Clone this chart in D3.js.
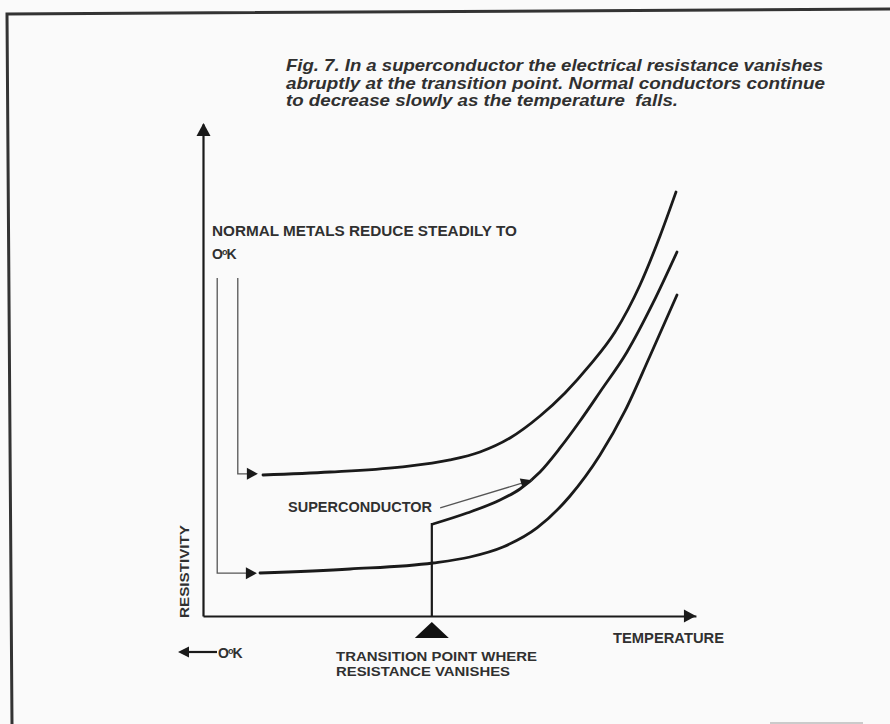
<!DOCTYPE html>
<html>
<head>
<meta charset="utf-8">
<script src="https://cdn.jsdelivr.net/npm/d3@7"></script>
<style>
  html, body { margin: 0; padding: 0; background: #fafafa; }
  svg { display: block; }
</style>
</head>
<body>
<script>
// ---------- data (temperature, resistivity in arbitrary units) ----------
const normalMetalA = [   // upper normal metal
  [12.24, 28.66], [25.92, 29.27], [40.20, 30.28], [50.41, 31.71], [56.53, 33.33],
  [62.65, 36.18], [68.78, 40.65], [73.88, 45.33], [78.98, 51.02], [84.08, 57.72],
  [89.18, 67.28], [93.27, 77.24], [96.53, 86.18]
];
const superconductor = [ // curve above the transition
  [46.94, 18.70], [53.88, 20.93], [60.61, 23.58], [64.69, 25.81], [68.78, 29.27],
  [72.86, 34.15], [76.94, 39.63], [81.02, 45.53], [86.53, 53.66], [91.84, 63.62],
  [96.73, 73.98]
];
const normalMetalB = [   // lower normal metal
  [11.63, 8.74], [30.00, 9.55], [46.94, 10.77], [54.49, 11.99], [61.22, 14.02],
  [68.16, 17.89], [74.90, 24.39], [81.02, 32.72], [86.12, 41.67], [91.22, 52.85],
  [96.73, 65.24]
];
const transitionT = 46.7;          // transition temperature
const transitionDrop = [[46.7, 0], [46.7, 18.7]];

// pointer from "normal metals" label to each curve
const pointerA = [[7.1, 68.7], [7.1, 28.9], [11.2, 28.9]];
const pointerB = [[2.9, 68.7], [2.9, 8.7], [11.0, 8.7]];
const pointerSC = [[48.4, 22.0], [67.1, 27.6]];

const captionLines = [
  "Fig. 7. In a superconductor the electrical resistance vanishes",
  "abruptly at the transition point. Normal conductors continue",
  "to decrease slowly as the temperature  falls."
];
const labelNormal = "NORMAL METALS REDUCE STEADILY TO";
const labelSC = "SUPERCONDUCTOR";
const labelY = "RESISTIVITY";
const labelX = "TEMPERATURE";
const labelTransition = ["TRANSITION POINT WHERE", "RESISTANCE VANISHES"];

// ---------- layout ----------
const W = 890, H = 724;
const svg = d3.select("body").append("svg").attr("width", W).attr("height", H)
  .attr("font-family", "'Liberation Sans', Arial, sans-serif");
svg.append("rect").attr("width", W).attr("height", H).attr("fill", "#fafafa");

const x = d3.scaleLinear().domain([0, 100]).range([203, 693]);
const y = d3.scaleLinear().domain([0, 100]).range([616, 124]);
const xMax = 100.6;

const ink = "#1a1a1a";
const txt = "#303030";

// frame
svg.append("path").attr("d", "M12,724 L7,14 L890,9")
  .attr("fill", "none").attr("stroke", "#333").attr("stroke-width", 3);
svg.append("line").attr("x1", 770).attr("x2", 863).attr("y1", 723).attr("y2", 723)
  .attr("stroke", "#bbb").attr("stroke-width", 1.5);

// caption
const cap = svg.append("text").attr("font-style", "italic").attr("font-weight", 700)
  .attr("font-size", 16.5).attr("fill", txt).attr("xml:space", "preserve");
const capW = [537, 539, 392];
captionLines.forEach((l, i) => {
  cap.append("tspan").attr("x", 286).attr("y", 71 + i * 17.5).text(l)
    .attr("textLength", capW[i]).attr("lengthAdjust", "spacingAndGlyphs");
});

// axes (domain lines only, drawn through d3 axes)
const xAxisScale = d3.scaleLinear().domain([0, xMax]).range([x(0), x(xMax)]);
svg.append("g").attr("transform", `translate(0,${y(0)})`)
  .call(d3.axisBottom(xAxisScale).tickValues([]).tickSizeOuter(0))
  .select(".domain").attr("stroke", ink).attr("stroke-width", 2.2);
svg.append("g").attr("transform", `translate(${x(0)},0)`)
  .call(d3.axisLeft(y).tickValues([]).tickSizeOuter(0))
  .select(".domain").attr("stroke", ink).attr("stroke-width", 2.2);

function arrowHead(tx, ty, ang, len, half, color) {
  const c = Math.cos(ang), s = Math.sin(ang);
  const bx = tx - c * len, by = ty - s * len;
  const p = d3.path();
  p.moveTo(tx, ty);
  p.lineTo(bx - s * half, by + c * half);
  p.lineTo(bx + s * half, by - c * half);
  p.closePath();
  svg.append("path").attr("d", p.toString()).attr("fill", color || ink);
}
arrowHead(x(0) + 0.5, 123, -Math.PI / 2, 13, 7);
arrowHead(x(xMax), y(0), 0, 12, 6.5);

// curves
const smooth = d3.line().x(d => x(d[0])).y(d => y(d[1])).curve(d3.curveMonotoneX);
const straight = d3.line().x(d => x(d[0])).y(d => y(d[1]));

[normalMetalA, superconductor, normalMetalB].forEach(s => {
  svg.append("path").attr("d", smooth(s)).attr("fill", "none")
    .attr("stroke", ink).attr("stroke-width", 2.8).attr("stroke-linecap", "round");
});
svg.append("path").attr("d", straight([transitionDrop[0], transitionDrop[1], superconductor[0]]))
  .attr("fill", "none").attr("stroke", ink).attr("stroke-width", 2.2);

// pointers
[pointerA, pointerB].forEach(p => {
  const last = p[p.length - 1];
  svg.append("path").attr("d", straight(p.slice(0, -1).concat([[last[0] - 1.6, last[1]]])))
    .attr("fill", "none").attr("stroke", "#555").attr("stroke-width", 1.3);
  arrowHead(x(last[0]), y(last[1]), 0, 11, 6);
});
{
  const a = pointerSC[0], b = pointerSC[1];
  const ang = Math.atan2(y(b[1]) - y(a[1]), x(b[0]) - x(a[0]));
  svg.append("path").attr("d", straight(pointerSC)).attr("fill", "none")
    .attr("stroke", "#555").attr("stroke-width", 1.3);
  arrowHead(x(b[0]), y(b[1]), ang, 11, 5);
}

// transition marker
{
  const tx = x(transitionT), ty = y(0) + 6;
  const p = d3.path();
  p.moveTo(tx, ty); p.lineTo(tx + 17, ty + 16); p.lineTo(tx - 17, ty + 16); p.closePath();
  svg.append("path").attr("d", p.toString()).attr("fill", "#111");
}

// labels
const lab = (t, px, py, len, fs) => {
  const e = svg.append("text").attr("x", px).attr("y", py).attr("font-size", fs || 14)
    .attr("font-weight", 700).attr("fill", txt).text(t);
  if (len) e.attr("textLength", len).attr("lengthAdjust", "spacingAndGlyphs");
  return e;
};
lab(labelNormal, 212, 236, 305);
function degK(px, py) {
  const e = svg.append("text").attr("x", px).attr("y", py).attr("font-size", 14)
    .attr("font-weight", 700).attr("fill", txt);
  e.append("tspan").text("O");
  e.append("tspan").attr("font-size", 9).attr("dy", -4).attr("dx", -1).text("o");
  e.append("tspan").attr("dy", 4).attr("dx", -1).text("K");
}
degK(212, 259);
lab(labelSC, 288, 512, 144);
lab(labelX, 613, 643, 111);
lab(labelTransition[0], 336, 661, 201, 12.5);
lab(labelTransition[1], 336, 676, 174, 12.5);
svg.append("text").attr("transform", "translate(189,618) rotate(-90)")
  .attr("font-size", 13).attr("font-weight", 700).attr("fill", txt)
  .attr("textLength", 93).attr("lengthAdjust", "spacingAndGlyphs").text(labelY);

// bottom-left 0°K arrow
svg.append("line").attr("x1", 217).attr("x2", 188).attr("y1", 652).attr("y2", 652)
  .attr("stroke", ink).attr("stroke-width", 2.2);
arrowHead(178, 652, Math.PI, 11, 5.5);
degK(218, 658);
</script>
</body>
</html>
